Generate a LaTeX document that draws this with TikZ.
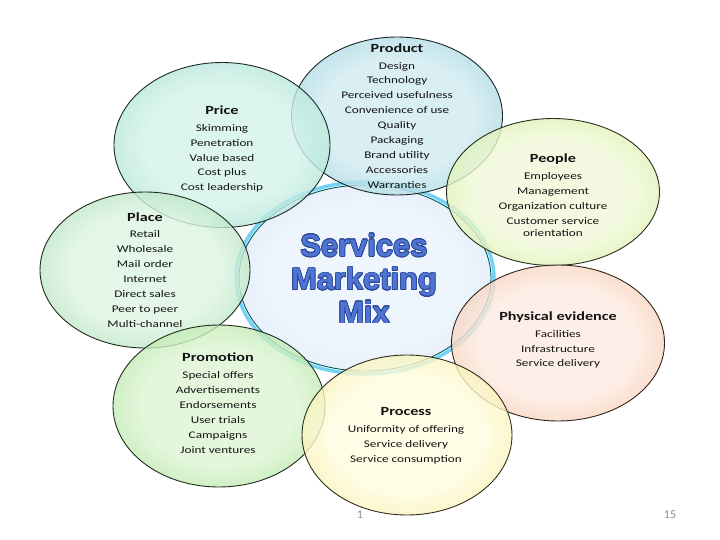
\documentclass[tikz,border=0pt]{standalone}
\usepackage{fontspec}
\setmainfont{Carlito}[FakeStretch=1.3]
\newfontfamily\numfont{Carlito}
\newfontfamily\mixfont{Liberation Sans}
\usepackage[copies]{contour}
\usetikzlibrary{shapes.geometric}

\definecolor{prodin}{HTML}{CFEBF1}\definecolor{prodout}{HTML}{8CC6D5}
\definecolor{pricein}{HTML}{D3F2EA}\definecolor{priceout}{HTML}{92D9C6}
\definecolor{peoplein}{HTML}{F1F9D9}\definecolor{peopleout}{HTML}{CBE88C}
\definecolor{placein}{HTML}{DDF4E2}\definecolor{placeout}{HTML}{97D6A2}
\definecolor{physin}{HTML}{FDEBE1}\definecolor{physout}{HTML}{F2B896}
\definecolor{promoin}{HTML}{DDF5D3}\definecolor{promoout}{HTML}{9EDD8B}
\definecolor{procin}{HTML}{FFFCDF}\definecolor{procout}{HTML}{F1E78C}
\definecolor{mixin}{HTML}{EAF3FC}\definecolor{mixout}{HTML}{D3E5F6}
\definecolor{mixblue}{HTML}{4F74D3}\definecolor{mixedge}{HTML}{2A4898}
\colorlet{bubin}{white}\colorlet{bubout}{white}
\pgfdeclareradialshading[bubin,bubout]{bubble}{\pgfpoint{0bp}{0bp}}{color(0bp)=(bubin); color(18bp)=(bubin); color(36bp)=(bubout); color(50bp)=(bubout)}
\contourlength{0.7pt}

\begin{document}
\begin{tikzpicture}[x=1bp,y=-1bp,line join=bevel]
  \tikzstyle{bubble}=[ellipse,inner sep=0pt,shade,shading=bubble,fill opacity=0.8,line width=0.9pt]
  \tikzstyle{tint}=[/utils/exec={\colorlet{bubin}{#1in}\colorlet{bubout}{#1out}},draw=#1out!20!black]
  \tikzstyle{items}=[align=center,text=black!92,font=\fontsize{10.2}{15}\selectfont]
  \useasboundingbox (0,0) rectangle (720,540);
  % centre
  \node[ellipse,draw=cyan!55,line width=3.5pt,minimum width=258bp,minimum height=192bp] (Glow) at (365,278) {};
  \node[bubble,tint=mix,draw=teal!70!black,minimum width=252bp,minimum height=186bp] (Mix) at (365,278) {};
  % the seven P's
  \node[bubble,tint=prod,minimum width=211bp,minimum height=158bp] (Prod) at (397,116) {};
  \node[bubble,tint=price,minimum width=216bp,minimum height=165bp] (Price) at (222,145) {};
  \node[bubble,tint=people,minimum width=213bp,minimum height=147bp] (People) at (553,192) {};
  \node[bubble,tint=place,minimum width=210bp,minimum height=156bp] (Place) at (145,270) {};
  \node[bubble,tint=phys,minimum width=213bp,minimum height=156bp] (Phys) at (558,343) {};
  \node[bubble,tint=promo,minimum width=212bp,minimum height=162bp] (Promo) at (219,406) {};
  \node[bubble,tint=proc,minimum width=210bp,minimum height=160bp] (Proc) at (407,435) {};
  % texts
  \newcommand\ptitle[1]{{\fontsize{12.5}{15}\selectfont\bfseries #1}\\[2pt]}
  \node[items] (ProdT) at (397,116) {\ptitle{Product}Design\\Technology\\Perceived usefulness\\Convenience of use\\Quality\\Packaging\\Brand utility\\Accessories\\Warranties};
  \node[items] (PriceT) at (222,149) {\ptitle{Price}Skimming\\Penetration\\Value based\\Cost plus\\Cost leadership};
  \node[items] (PeopleT) at (553,195) {\ptitle{People}Employees\\Management\\Organization culture\\Customer service\\[-3pt]orientation};
  \node[items] (PlaceT) at (145,270) {\ptitle{Place}Retail\\Wholesale\\Mail order\\Internet\\Direct sales\\Peer to peer\\Multi-channel};
  \node[items] (PhysT) at (558,340) {\ptitle{Physical evidence}Facilities\\Infrastructure\\Service delivery};
  \node[items] (PromoT) at (218,403) {\ptitle{Promotion}Special offers\\Advertisements\\Endorsements\\User trials\\Campaigns\\Joint ventures};
  \node[items] (ProcT) at (406,436) {\ptitle{Process}Uniformity of offering\\Service delivery\\Service consumption};
  \node[align=center,text=mixblue,font=\mixfont\bfseries\fontsize{31}{33.5}\selectfont] (MixT) at (364,279)
    {\contour{mixedge}{Services}\\\contour{mixedge}{Marketing}\\\contour{mixedge}{Mix}};
  % page numbers
  \node[text=black!45,font=\numfont\fontsize{12}{14}\selectfont] (NumA) at (360,515) {1};
  \node[text=black!45,font=\numfont\fontsize{12}{14}\selectfont] (NumB) at (670,515) {15};
\end{tikzpicture}
\end{document}
